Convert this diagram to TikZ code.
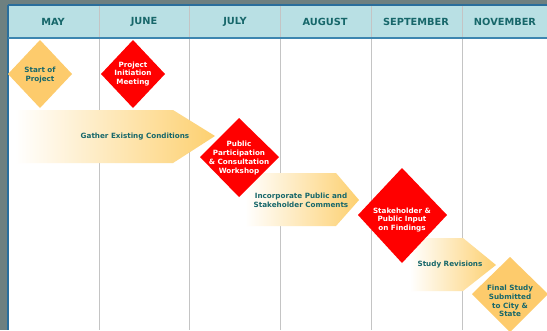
\documentclass[tikz,border=0pt]{standalone}
\usepackage{fontspec}
\setmainfont{DejaVu Sans}
\definecolor{bggrey}{HTML}{6E8080}
\definecolor{hdr}{HTML}{B9E0E4}
\definecolor{frameblue}{HTML}{2A6E9C}
\definecolor{lineblue}{HTML}{3D86B0}
\definecolor{colgrey}{HTML}{C4C4C4}
\definecolor{tealtxt}{HTML}{17676A}
\definecolor{gold}{HTML}{FDCB6C}
\definecolor{goldarrow}{HTML}{FDD070}
\definecolor{redd}{HTML}{FF0000}
\begin{document}
\begin{tikzpicture}[x=1pt,y=-1pt,
  month/.style={font=\fontsize{9.8}{11}\selectfont\bfseries, text=tealtxt, inner sep=0pt},
  lbl/.style={font=\fontsize{7.2}{8.8}\selectfont\bfseries, text=tealtxt, align=center, inner sep=0pt},
  wlbl/.style={font=\fontsize{7.2}{8.8}\selectfont\bfseries, text=white, align=center, inner sep=0pt},
  colline/.style={colgrey, line width=1pt},
  arrowshade/.style={left color=white, right color=goldarrow, draw=none}]
\useasboundingbox (0,0) rectangle (547,330);
% background and frame
\fill[bggrey] (0,0) rectangle (547,330);
\fill[white] (8,37) rectangle (547,330);
\fill[hdr] (8,5) rectangle (547,37);
% column dividers
\foreach \x in {99,189,280,371,462} \draw[colline] (\x,5) -- (\x,330);
\draw[frameblue, line width=1.5pt] (8,5) -- (547,5);
\draw[frameblue, line width=1.5pt] (8,5) -- (8,330);
\draw[lineblue, line width=2pt] (8,37.5) -- (547,37.5);
% month headers
\node[month] (may) at (53,22) {MAY};
\node[month] (jun) at (144,22) {JUNE};
\node[month] (jul) at (235,22) {JULY};
\node[month] (aug) at (325,22) {AUGUST};
\node[month] (sep) at (416,22) {SEPTEMBER};
\node[month] (nov) at (505,22) {NOVEMBER};
% gradient arrows
\shade[arrowshade] (15,110) -- (173,110) -- (215,136) -- (173,163) -- (15,163) -- cycle;
\shade[arrowshade] (245,173) -- (336,173) -- (359,200) -- (336,226) -- (245,226) -- cycle;
\shade[arrowshade] (410,238) -- (463,238) -- (496,265) -- (463,291) -- (410,291) -- cycle;
\node[lbl] (gather) at (135,137) {Gather Existing Conditions};
\node[lbl] (incorp) at (301,200) {Incorporate Public and\\Stakeholder Comments};
\node[lbl] (revis) at (450,265) {Study Revisions};
% diamonds
\fill[gold] (40,40) -- (72,74) -- (40,108) -- (8,74) -- cycle;
\node[lbl] (start) at (40,75) {Start of\\Project};
\fill[redd] (133,40) -- (165,74) -- (133,108) -- (101,74) -- cycle;
\node[wlbl] (init) at (133,74) {Project\\Initiation\\Meeting};
\fill[redd] (239,118) -- (279,157) -- (239,197) -- (200,157) -- cycle;
\node[wlbl] (publ) at (239,158) {Public\\Participation\\\& Consultation\\Workshop};
\fill[redd] (402,168) -- (447,215) -- (402,263) -- (358,215) -- cycle;
\node[wlbl] (stake) at (402,220) {Stakeholder \&\\Public Input\\on Findings};
\fill[gold] (510,257) -- (548,294) -- (510,332) -- (472,294) -- cycle;
\node[lbl] (final) at (510,301) {Final Study\\Submitted\\to City \&\\State};
\end{tikzpicture}
\end{document}
